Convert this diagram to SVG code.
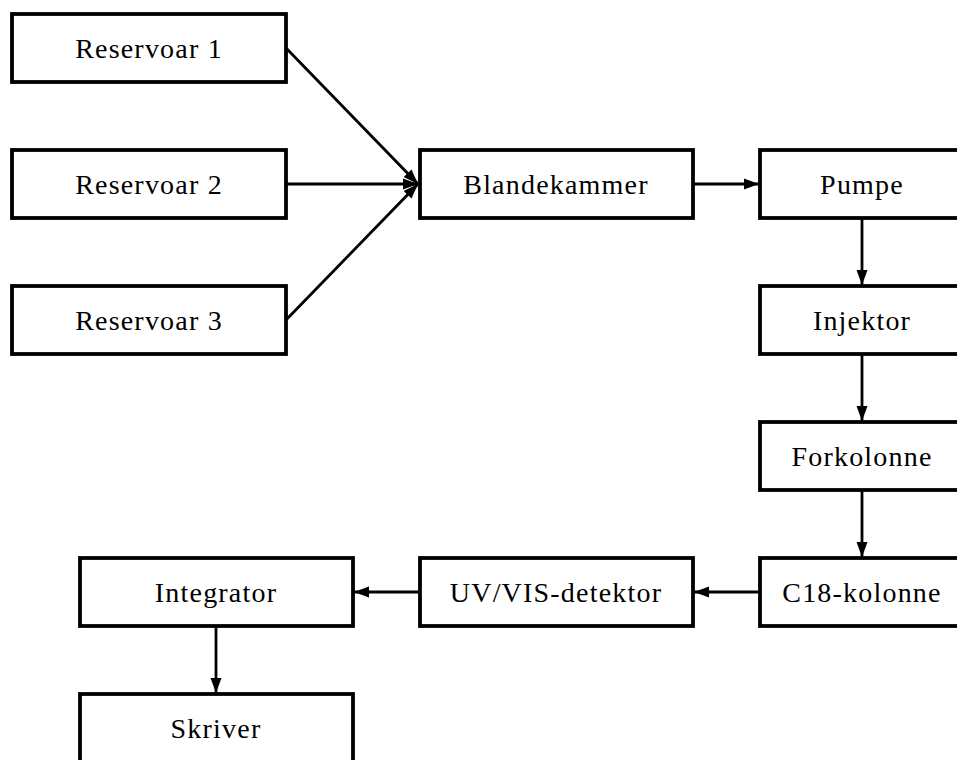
<svg xmlns="http://www.w3.org/2000/svg" width="957" height="760" viewBox="0 0 957 760">
<defs>
<marker id="ah" markerUnits="userSpaceOnUse" markerWidth="16" markerHeight="12" refX="15" refY="6" orient="auto">
<path d="M0,0.5 L15,6 L0,11.5 Z" fill="#000"/>
</marker>
<style>
.box{fill:#fff;stroke:#000;stroke-width:3.8}
.lbl{font-family:"Liberation Serif","Times New Roman",serif;font-size:28px;fill:#000;text-anchor:middle;letter-spacing:1.2px}
.con{stroke:#000;stroke-width:2.8;fill:none;marker-end:url(#ah)}
</style>
</defs>
<rect width="957" height="760" fill="#fff"/>
<g id="connectors">
<line class="con" x1="286" y1="48" x2="418" y2="184"/>
<line class="con" x1="286" y1="184" x2="418" y2="184"/>
<line class="con" x1="286" y1="320" x2="418" y2="184"/>
<line class="con" x1="693" y1="184" x2="759" y2="184"/>
<line class="con" x1="862" y1="218" x2="862" y2="285"/>
<line class="con" x1="862" y1="354" x2="862" y2="421"/>
<line class="con" x1="862" y1="490" x2="862" y2="557"/>
<line class="con" x1="760" y1="592" x2="694" y2="592"/>
<line class="con" x1="419" y1="592" x2="354" y2="592"/>
<line class="con" x1="216" y1="626" x2="216" y2="693"/>
</g>
<g id="reservoar1"><rect class="box" x="12" y="14" width="274" height="68"/><text class="lbl" x="149" y="58">Reservoar 1</text></g>
<g id="reservoar2"><rect class="box" x="12" y="150" width="274" height="68"/><text class="lbl" x="149" y="194">Reservoar 2</text></g>
<g id="reservoar3"><rect class="box" x="12" y="286" width="274" height="68"/><text class="lbl" x="149" y="330">Reservoar 3</text></g>
<g id="blandekammer"><rect class="box" x="420" y="150" width="273" height="68"/><text class="lbl" x="556" y="194">Blandekammer</text></g>
<g id="pumpe"><rect class="box" x="760" y="150" width="204" height="68"/><text class="lbl" x="862" y="194">Pumpe</text></g>
<g id="injektor"><rect class="box" x="760" y="286" width="204" height="68"/><text class="lbl" x="862" y="330">Injektor</text></g>
<g id="forkolonne"><rect class="box" x="760" y="422" width="204" height="68"/><text class="lbl" x="862" y="466">Forkolonne</text></g>
<g id="c18kolonne"><rect class="box" x="760" y="558" width="204" height="68"/><text class="lbl" x="862" y="602">C18-kolonne</text></g>
<g id="uvvis"><rect class="box" x="420" y="558" width="273" height="68"/><text class="lbl" x="556" y="602">UV/VIS-detektor</text></g>
<g id="integrator"><rect class="box" x="80" y="558" width="273" height="68"/><text class="lbl" x="216" y="602">Integrator</text></g>
<g id="skriver"><rect class="box" x="80" y="694" width="273" height="68"/><text class="lbl" x="216" y="738">Skriver</text></g>
</svg>
